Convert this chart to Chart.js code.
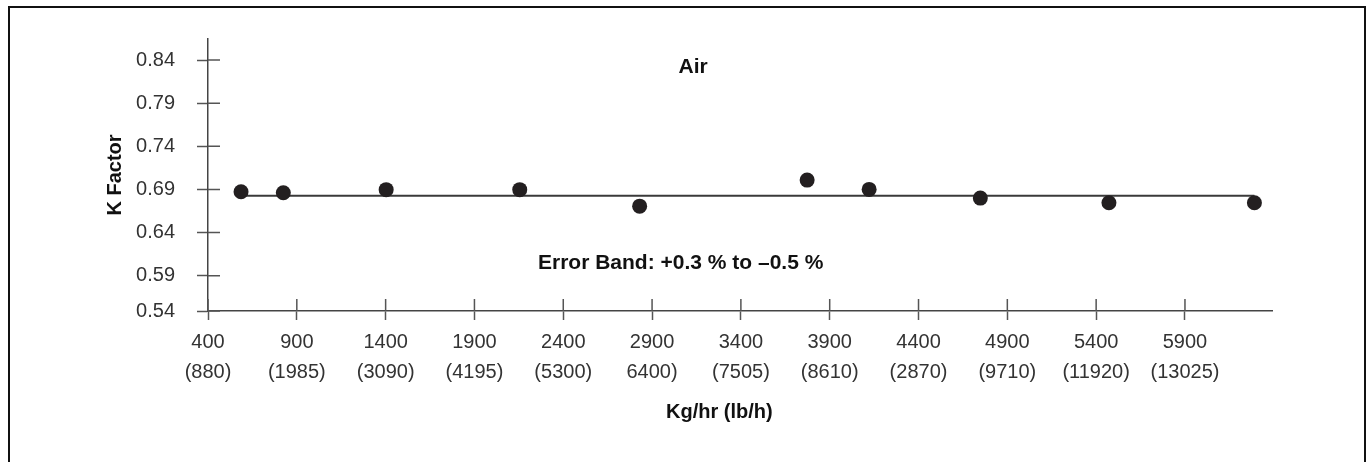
<!DOCTYPE html>
<html lang="en">
    <head>
        <meta charset="UTF-8" />
        <title>K Factor - Air</title>
        <script src="https://cdn.jsdelivr.net/npm/chart.js@4.4.1/dist/chart.umd.min.js"></script>
        <style>
            html, body { margin: 0; padding: 0; background: #fff; overflow: hidden; }
            #wrapper { position: relative; width: 1369px; height: 462px; }
            #frame { position: absolute; left: 8px; top: 6px; width: 1358px; height: 520px; border: 2px solid #111; box-sizing: border-box; pointer-events: none; }
        </style>
    </head>
    <body>
        <div id="wrapper">
            <canvas id="canvas" width="1369" height="462"></canvas>
            <div id="frame"></div>
        </div>
        <script>
            // measured points (kg/hr vs K factor)
            const flowKg = [586, 824, 1403, 2155, 2830, 3773, 4122, 4748, 5472, 6291];
            const kFactor = [0.6873, 0.6862, 0.6897, 0.6897, 0.6706, 0.7008, 0.6900, 0.6799, 0.6745, 0.6745];
            const meanK = 0.6825;

            const xTicks = [400, 900, 1400, 1900, 2400, 2900, 3400, 3900, 4400, 4900, 5400, 5900];
            const xTickLabels = [
                ['400', '(880)'], ['900', '(1985)'], ['1400', '(3090)'], ['1900', '(4195)'],
                ['2400', '(5300)'], ['2900', '6400)'], ['3400', '(7505)'], ['3900', '(8610)'],
                ['4400', '(2870)'], ['4900', '(9710)'], ['5400', '(11920)'], ['5900', '(13025)']
            ];
            const yTickLabels = ['0.54', '0.59', '0.64', '0.69', '0.74', '0.79', '0.84'];

            const labelFont = { family: '"Liberation Sans", Arial, sans-serif', size: 20 };
            const boldFont = '"Liberation Sans", Arial, sans-serif';

            // ticks in the original cross the axis lines, and the notes sit inside the plot
            const extras = {
                id: 'extras',
                afterDraw(chart) {
                    const {ctx, chartArea, scales: {x, y}} = chart;
                    ctx.save();
                    ctx.strokeStyle = '#555';
                    ctx.lineWidth = 1.5;
                    ctx.beginPath();
                    x.ticks.forEach(t => {
                        const px = x.getPixelForValue(t.value);
                        ctx.moveTo(px, chartArea.bottom);
                        ctx.lineTo(px, chartArea.bottom - 12);
                    });
                    y.ticks.forEach(t => {
                        const py = y.getPixelForValue(t.value);
                        ctx.moveTo(chartArea.left, py);
                        ctx.lineTo(chartArea.left + 12, py);
                    });
                    ctx.stroke();

                    ctx.fillStyle = '#111';
                    ctx.textAlign = 'center';
                    ctx.textBaseline = 'middle';
                    ctx.font = 'bold 21px ' + boldFont;
                    ctx.fillText('Air', x.getPixelForValue(3131), y.getPixelForValue(0.832));
                    ctx.fillText('Error Band: +0.3 % to \u20130.5 %', x.getPixelForValue(3061), y.getPixelForValue(0.604));
                    ctx.font = 'bold 20px ' + boldFont;
                    ctx.fillText('Kg/hr (lb/h)', x.getPixelForValue(3279), chartArea.bottom + 101);
                    ctx.restore();
                }
            };

            let points = flowKg.map((f, i) => ({x: f, y: kFactor[i]}));
            let meanLine = [{x: flowKg[0], y: meanK}, {x: flowKg[flowKg.length - 1], y: meanK}];

            let options = {
                type: 'scatter',
                data: {
                    datasets: [{
                        data: points,
                        pointRadius: 7.5,
                        pointBackgroundColor: '#231f20',
                        pointBorderWidth: 0,
                        showLine: false
                    }, {
                        data: meanLine,
                        showLine: true,
                        borderColor: '#3a3a3a',
                        borderWidth: 2,
                        pointRadius: 0
                    }]
                },
                options: {
                    responsive: false,
                    devicePixelRatio: 1,
                    animation: false,
                    layout: { padding: { top: 39, right: 97, left: 0, bottom: 0 } },
                    plugins: { legend: { display: false }, tooltip: { enabled: false } },
                    scales: {
                        x: {
                            type: 'linear',
                            min: 400,
                            max: 6390,
                            afterBuildTicks: scale => { scale.ticks = xTicks.map(v => ({value: v})); },
                            afterFit: scale => { scale.height = 151; },
                            grid: { drawOnChartArea: false, drawTicks: true, tickLength: 9, tickWidth: 1.5, tickColor: '#555' },
                            border: { display: true, color: '#444', width: 1.5 },
                            ticks: {
                                autoSkip: false,
                                maxRotation: 0,
                                padding: 7,
                                color: '#333',
                                font: Object.assign({lineHeight: 1.5}, labelFont),
                                callback: (v, i) => xTickLabels[i]
                            }
                        },
                        y: {
                            type: 'linear',
                            min: 0.549,
                            max: 0.8644,
                            afterBuildTicks: scale => {
                                scale.ticks = yTickLabels.map((t, i) => ({value: i === 0 ? scale.min : parseFloat(t)}));
                            },
                            afterFit: scale => { scale.width = 208; },
                            grid: { drawOnChartArea: false, drawTicks: true, tickLength: 11, tickWidth: 1.5, tickColor: '#555' },
                            border: { display: true, color: '#444', width: 1.5 },
                            ticks: {
                                padding: 22,
                                color: '#333',
                                font: labelFont,
                                callback: (v, i) => yTickLabels[i]
                            },
                            title: {
                                display: true,
                                text: 'K Factor',
                                color: '#111',
                                font: { family: boldFont, size: 20, weight: 'bold' },
                                padding: { top: 103, bottom: 0 }
                            }
                        }
                    }
                },
                plugins: [extras]
            };

            let chart1 = new Chart(document.getElementById('canvas'), options);
        </script>
    </body>
</html>
